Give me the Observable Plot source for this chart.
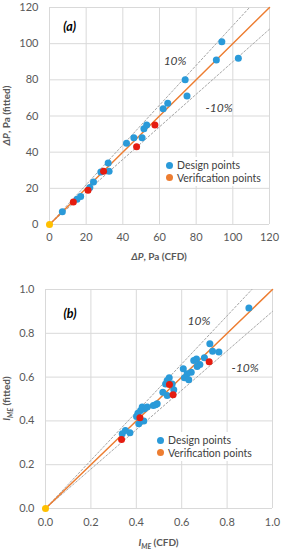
<!DOCTYPE html>
<html><head><meta charset="utf-8">
<script src="https://cdn.jsdelivr.net/npm/d3@7"></script>
<script src="https://cdn.jsdelivr.net/npm/@observablehq/plot@0.6"></script>
<style>
body{margin:0;background:#fff;font-family:Lato,"Open Sans",sans-serif;}
#wrap{position:relative;width:281px;height:550px;overflow:hidden;background:#fff;}
.panel{position:absolute;left:0;}
.legend{position:absolute;font-size:10.5px;color:#404040;line-height:12.5px;background:#fff;padding:2px 4px 2px 0;white-space:nowrap;}
.legend .row{display:flex;align-items:center;}
.legend .sw{display:inline-block;width:7px;height:7px;border-radius:50%;margin-right:4px;}
</style></head>
<body>
<div id="wrap">
  <div class="panel" id="pa" style="top:0"></div>
  <div class="panel" id="pb" style="top:265px"></div>
</div>
<script>
// ---------- Data ----------
const ticksA = [0, 20, 40, 60, 80, 100, 120];
const ticksB = [0, 0.2, 0.4, 0.6, 0.8, 1.0];

// Panel (a): ΔP CFD vs fitted
const designA_x = [7, 15, 17, 22, 24, 28, 32, 32.5, 42, 46, 50.5, 51.5, 53, 62, 64.5, 74, 75, 91, 94, 103];
const designA_y = [7, 14, 15.5, 20.5, 23.5, 29, 34, 29.5, 45, 48, 48, 53, 55, 64, 67, 80, 71, 91, 101, 92];
const verifA_x = [13, 21, 29.5, 47.5, 57.5];
const verifA_y = [12.5, 19, 29.5, 43, 55];

// Panel (b): I_ME CFD vs fitted
const designB_x = [0.896, 0.724, 0.736, 0.764, 0.700, 0.665, 0.653, 0.680, 0.668, 0.607, 0.642, 0.624, 0.612, 0.631,
  0.545, 0.529, 0.558, 0.565, 0.536, 0.517, 0.536, 0.492, 0.475, 0.448, 0.426, 0.436, 0.419, 0.407, 0.401, 0.411,
  0.433, 0.372, 0.352, 0.338, 0.485];
const designB_y = [0.915, 0.752, 0.718, 0.715, 0.688, 0.683, 0.676, 0.658, 0.648, 0.638, 0.622, 0.615, 0.597, 0.588,
  0.597, 0.569, 0.569, 0.542, 0.516, 0.531, 0.584, 0.478, 0.470, 0.463, 0.463, 0.455, 0.448, 0.435, 0.420, 0.387,
  0.399, 0.346, 0.356, 0.341, 0.474];
const verifB_x = [0.721, 0.546, 0.562, 0.416, 0.335];
const verifB_y = [0.670, 0.566, 0.519, 0.414, 0.315];

const origin = [{x: 0, y: 0}];
const bandPct = 0.10;

const annA = [{x: 11, y: 109, t: "(a)", bold: true}, {x: 68.5, y: 90.5, t: "10%"}, {x: 92.5, y: 64.5, t: "-10%"}];
const annB = [{x: 0.108, y: 0.89, t: "(b)", bold: true}, {x: 0.676, y: 0.854, t: "10%"}, {x: 0.879, y: 0.64, t: "-10%"}];

const legendLabels = ["Design points", "Verification points"];

// ---------- Colors ----------
const BLUE = "#2a9ad9", RED = "#e51c10", ORANGE = "#ed7d31", GOLD = "#ffc000", GRID = "#d9d9d9", DOT = "#a6a6a6";

const zip = (xs, ys) => xs.map((x, i) => ({x, y: ys[i]}));

function panel(opts) {
  const {max, ticks, fmt, design, verif, ann, m} = opts;
  const diag = [{x: 0, y: 0}, {x: max, y: max}];
  const upper = [{x: 0, y: 0}, {x: max / (1 + bandPct), y: max}];
  const lower = [{x: 0, y: 0}, {x: max, y: max * (1 - bandPct)}];
  const p = Plot.plot({
    width: 281, height: m.h,
    marginTop: m.t, marginBottom: m.b, marginLeft: m.l, marginRight: m.r,
    style: {fontFamily: "Lato, 'Open Sans', sans-serif", fontSize: "11px", color: "#595959", background: "transparent", overflow: "visible"},
    x: {domain: [0, max], ticks, tickFormat: fmt, label: null, tickSize: 0, tickPadding: m.xp},
    y: {domain: [0, max], ticks, tickFormat: fmt, label: null, tickSize: 0, tickPadding: m.yp},
    marks: [
      Plot.gridX(ticks, {stroke: GRID, strokeOpacity: 1}),
      Plot.gridY(ticks, {stroke: GRID, strokeOpacity: 1}),
      Plot.line(upper, {x: "x", y: "y", stroke: DOT, strokeWidth: 1, strokeDasharray: "2,2"}),
      Plot.line(lower, {x: "x", y: "y", stroke: DOT, strokeWidth: 1, strokeDasharray: "2,2"}),
      Plot.line(diag, {x: "x", y: "y", stroke: ORANGE, strokeWidth: 1.5}),
      Plot.dot(design, {x: "x", y: "y", r: 3.5, fill: BLUE}),
      Plot.dot(verif, {x: "x", y: "y", r: 3.5, fill: RED}),
      Plot.dot(origin, {x: "x", y: "y", r: 3.5, fill: GOLD}),
      Plot.text(ann.filter(d => d.bold), {x: "x", y: "y", text: "t", fontSize: 12.5, fontWeight: "bold", fontStyle: "italic", fill: "#000"}),
      Plot.text(ann.filter(d => !d.bold), {x: "x", y: "y", text: "t", fontSize: 12, fontStyle: "italic", fill: "#404040"})
    ]
  });
  return p;
}

function addLabels(svg, m, xParts, yParts, xY, yX) {
  const s = d3.select(svg);
  const cx = m.l + (281 - m.l - m.r) / 2;
  const cy = m.t + (m.h - m.t - m.b) / 2;
  const build = (t, parts) => {
    parts.forEach(pt => {
      const ts = t.append("tspan").text(pt.s);
      if (pt.i) ts.attr("font-style", "italic");
      if (pt.sub) ts.attr("font-size", 7).attr("dy", 2.5);
      if (pt.after) ts.attr("dy", -2.5);
    });
  };
  const tx = s.append("text").attr("x", cx).attr("y", xY).attr("text-anchor", "middle")
    .attr("font-size", 10).attr("font-weight", "bold").attr("fill", "#595959")
    .attr("font-family", "Lato, 'Open Sans', sans-serif");
  build(tx, xParts);
  const ty = s.append("text").attr("transform", `translate(${yX},${cy}) rotate(-90)`).attr("text-anchor", "middle")
    .attr("font-size", 10).attr("font-weight", "bold").attr("fill", "#595959")
    .attr("font-family", "Lato, 'Open Sans', sans-serif");
  build(ty, yParts);
}

function legend(container, left, top) {
  const L = document.createElement("div");
  L.className = "legend";
  L.style.left = left + "px";
  L.style.top = top + "px";
  const cols = [BLUE, ORANGE];
  legendLabels.forEach((lab, i) => {
    const r = document.createElement("div");
    r.className = "row";
    r.innerHTML = `<span class="sw" style="background:${cols[i]}"></span><span>${lab}</span>`;
    L.appendChild(r);
  });
  container.appendChild(L);
}

// Panel (a)
const mA = {h: 265, t: 7, b: 41, l: 49, r: 12, xp: 9, yp: 11};
const pa = panel({max: 120, ticks: ticksA, fmt: d => d, design: zip(designA_x, designA_y), verif: zip(verifA_x, verifA_y), ann: annA, m: mA});
document.getElementById("pa").appendChild(pa);
addLabels(pa, mA,
  [{s: "ΔP", i: true}, {s: ", Pa (CFD)"}],
  [{s: "ΔP", i: true}, {s: ", Pa (fitted)"}], 260, 10);
legend(document.getElementById("wrap"), 166, 157);

// Panel (b)
const mB = {h: 285, t: 24, b: 42, l: 45, r: 9, xp: 10, yp: 11};
const pb = panel({max: 1.0, ticks: ticksB, fmt: d3.format(".1f"), design: zip(designB_x, designB_y), verif: zip(verifB_x, verifB_y), ann: annB, m: mB});
document.getElementById("pb").appendChild(pb);
addLabels(pb, mB,
  [{s: "I", i: true}, {s: "ME", i: true, sub: true}, {s: " (CFD)", after: true}],
  [{s: "I", i: true}, {s: "ME", i: true, sub: true}, {s: " (fitted)", after: true}], 281, 10);
legend(document.getElementById("wrap"), 157, 432);
</script>
</body></html>
